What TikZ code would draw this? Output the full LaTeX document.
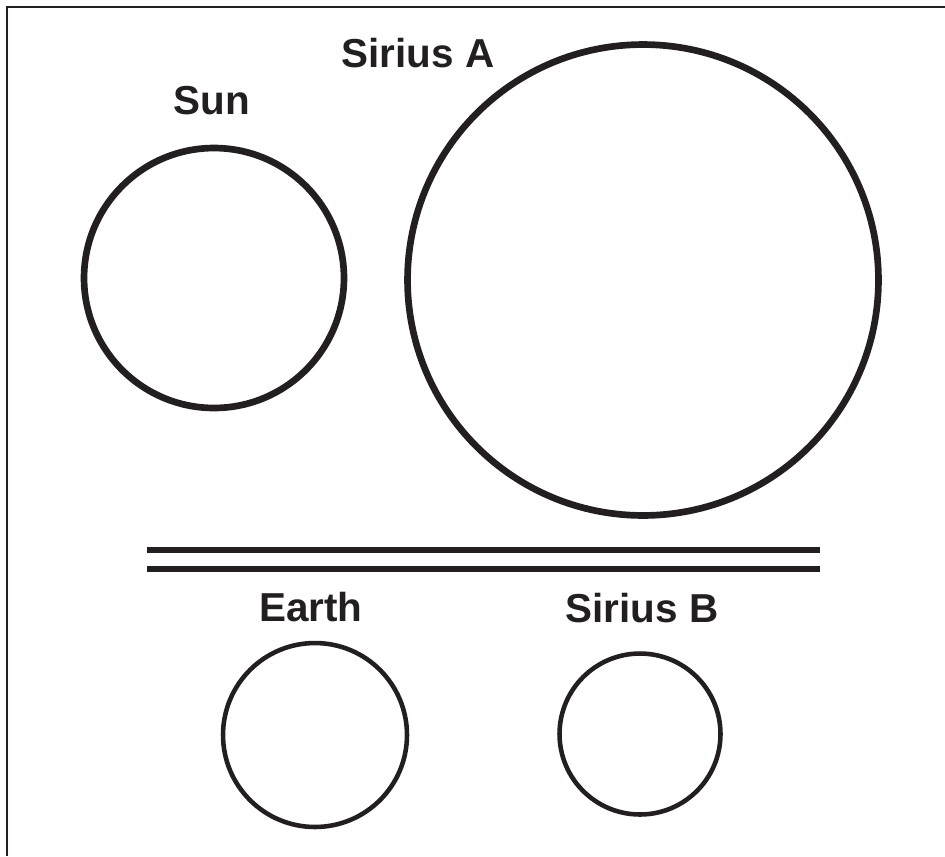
\documentclass[tikz,border=0pt]{standalone}
\usepackage{fontspec}
\setmainfont{Liberation Sans}
\usepackage{tikz}
\usetikzlibrary{positioning}

\definecolor{ink}{HTML}{231F20}

\begin{document}
\begin{tikzpicture}[x=0.02cm,y=-0.02cm,
        orb/.style={circle,draw=ink,inner sep=0pt},
        lbl/.style={text=ink,font=\bfseries\fontsize{23}{27}\selectfont,inner sep=0pt}]
        \useasboundingbox (0,0) rectangle (945,856);
        \draw[ink,line width=1.1pt] (945,7)--(7,7)--(7,856);

        % upper pair
        \node[orb,line width=3.8pt,minimum size=5.2cm] (sun) at (214,278) {};
        \node[lbl] (sunlbl) at (212,101) {Sun};
        \node[orb,line width=3.8pt,minimum size=9.42cm] (sirA) at (643,280) {};
        \node[lbl] (sirAlbl) at (418,53) {Sirius A};

        % divider
        \coordinate (divL) at (147,550);
        \coordinate (divR) at (820,550);
        \draw[ink,line width=3.4pt] (divL)--(divR);
        \draw[ink,line width=3.4pt] ([yshift=-0.38cm]divL)--([yshift=-0.38cm]divR);

        % lower pair
        \node[orb,line width=2.6pt,minimum size=3.68cm] (earth) at (315,735) {};
        \node[lbl] (earthlbl) at (311,607) {Earth};
        \node[orb,line width=2.6pt,minimum size=3.22cm] (sirB) at (640,734) {};
        \node[lbl] (sirBlbl) at (642,608) {Sirius B};
    \end{tikzpicture}
\end{document}
